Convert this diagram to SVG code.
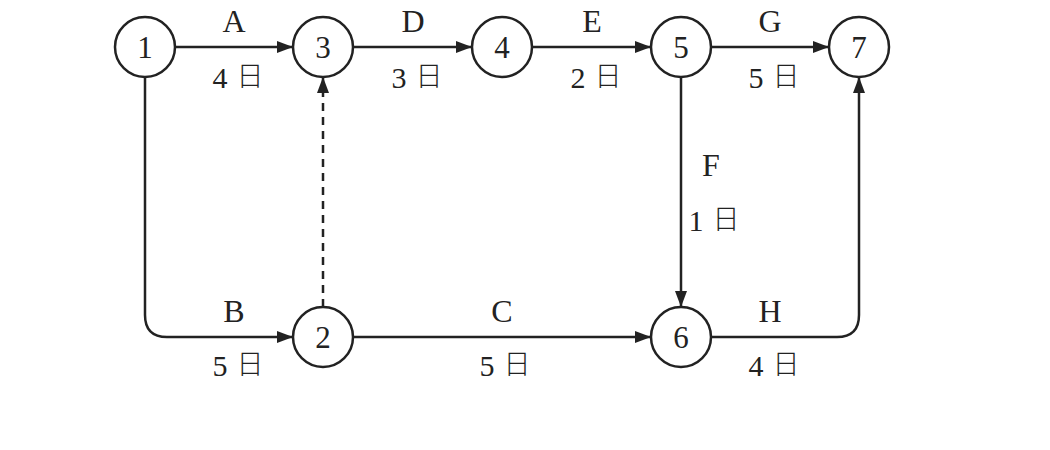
<svg xmlns="http://www.w3.org/2000/svg" width="1050" height="450" viewBox="0 0 1050 450">
<style>
.n{fill:#fff;stroke:#222;stroke-width:2.5}
.nt{font-family:"Liberation Serif","Noto Sans CJK SC",serif;font-size:31px;fill:#222;text-anchor:middle}
.e{fill:none;stroke:#222;stroke-width:2.5}
.d{stroke-dasharray:8,6}
.l{font-family:"Liberation Serif","Noto Sans CJK SC",serif;font-size:32px;fill:#222;text-anchor:middle}
.t{font-family:"Liberation Serif","Noto Sans CJK SC",serif;font-size:30px;fill:#222;text-anchor:middle}
.r{font-family:"Noto Sans CJK SC",serif;font-size:27px;font-weight:300;fill:#222;text-anchor:middle}
</style>
<defs>
<marker id="ar" viewBox="0 0 16 12" refX="16" refY="6" markerWidth="16" markerHeight="12" markerUnits="userSpaceOnUse" orient="auto">
<path d="M0,0 L16,6 L0,12 Z" fill="#222"/>
</marker>
</defs>
<g id="connectors">
<path class="e" d="M175,47 H293" marker-end="url(#ar)"/>
<path class="e" d="M353,47 H472" marker-end="url(#ar)"/>
<path class="e" d="M532,47 H651" marker-end="url(#ar)"/>
<path class="e" d="M711,47 H829" marker-end="url(#ar)"/>
<path class="e" d="M145,77 V315 Q145,337 167,337 H293" marker-end="url(#ar)"/>
<path class="e d" d="M323,307 V77" marker-end="url(#ar)"/>
<path class="e" d="M353,337 H651" marker-end="url(#ar)"/>
<path class="e" d="M681,77 V307" marker-end="url(#ar)"/>
<path class="e" d="M711,337 H837 Q859,337 859,315 V77" marker-end="url(#ar)"/>
</g>
<g id="labels">
<text class="l" x="234" y="32">A</text><text class="t" x="220" y="88">4</text><text class="r" x="250" y="86">日</text>
<text class="l" x="413" y="32">D</text><text class="t" x="399" y="88">3</text><text class="r" x="429" y="86">日</text>
<text class="l" x="592" y="32">E</text><text class="t" x="578" y="88">2</text><text class="r" x="608" y="86">日</text>
<text class="l" x="770" y="32">G</text><text class="t" x="756" y="88">5</text><text class="r" x="786" y="86">日</text>
<text class="l" x="711" y="176">F</text><text class="t" x="696" y="231">1</text><text class="r" x="726" y="229">日</text>
<text class="l" x="234" y="322">B</text><text class="t" x="220" y="376">5</text><text class="r" x="250" y="374">日</text>
<text class="l" x="502" y="322">C</text><text class="t" x="487" y="376">5</text><text class="r" x="517" y="374">日</text>
<text class="l" x="770" y="322">H</text><text class="t" x="756" y="376">4</text><text class="r" x="786" y="374">日</text>
</g>
<g id="node1"><circle class="n" cx="145" cy="47" r="30"/><text class="nt" x="145" y="58">1</text></g>
<g id="node3"><circle class="n" cx="323" cy="47" r="30"/><text class="nt" x="323" y="58">3</text></g>
<g id="node4"><circle class="n" cx="502" cy="47" r="30"/><text class="nt" x="502" y="58">4</text></g>
<g id="node5"><circle class="n" cx="681" cy="47" r="30"/><text class="nt" x="681" y="58">5</text></g>
<g id="node7"><circle class="n" cx="859" cy="47" r="30"/><text class="nt" x="859" y="58">7</text></g>
<g id="node2"><circle class="n" cx="323" cy="337" r="30"/><text class="nt" x="323" y="348">2</text></g>
<g id="node6"><circle class="n" cx="681" cy="337" r="30"/><text class="nt" x="681" y="348">6</text></g>
</svg>
